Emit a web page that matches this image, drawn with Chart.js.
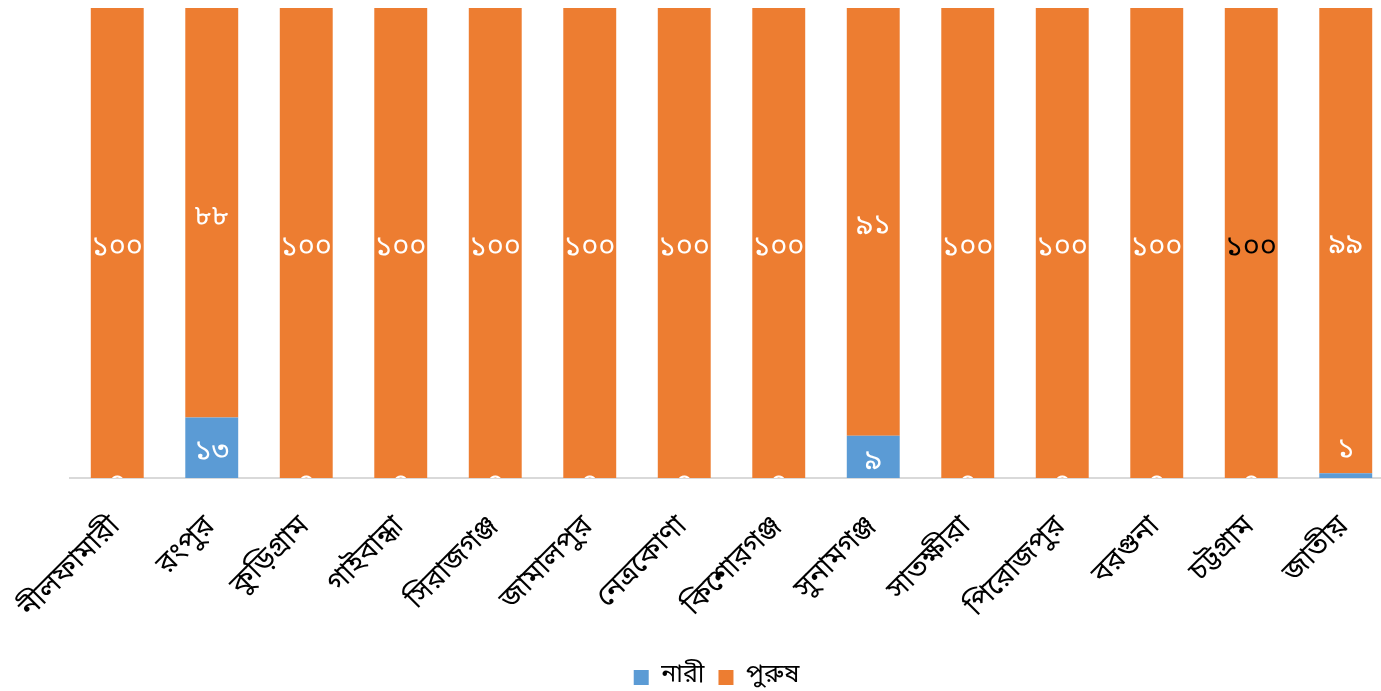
<!DOCTYPE html>
<html>
<head>
<meta charset="utf-8">
<script src="https://cdn.jsdelivr.net/npm/chart.js@4/dist/chart.umd.min.js"></script>
<style>
    html, body { margin: 0; padding: 0; background: #fff; overflow: hidden; }
    #wrap { position: relative; width: 1400px; height: 691px; }
</style>
</head>
<body>
<div id="wrap"><canvas id="chart"></canvas></div>
<script>
const categories = ['নীলফামারী', 'রংপুর', 'কুড়িগ্রাম', 'গাইবান্ধা', 'সিরাজগঞ্জ', 'জামালপুর', 'নেত্রকোণা', 'কিশোরগঞ্জ', 'সুনামগঞ্জ', 'সাতক্ষীরা', 'পিরোজপুর', 'বরগুনা', 'চট্টগ্রাম', 'জাতীয়'];
const seriesNames = ['নারী', 'পুরুষ'];
const women = [0, 13, 0, 0, 0, 0, 0, 0, 9, 0, 0, 0, 0, 1];
const men = [100, 88, 100, 100, 100, 100, 100, 100, 91, 100, 100, 100, 100, 99];

(function(){
    const FONT = '"Noto Sans Bengali", "Vrinda", "Nirmala UI", "Noto Sans", sans-serif';
    const bnDigits = '০১২৩৪৫৬৭৮৯';
    const toBn = n => String(n).replace(/[0-9]/g, d => bnDigits[+d]);

    const raw = [women, men];
    const totals = categories.map((c, i) => women[i] + men[i]);
    const share = arr => arr.map((v, i) => v / totals[i] * 100);
    const colors = ['#5B9BD5', '#ED7D31'];

    // label colours: white everywhere, one black label on চট্টগ্রাম
    const labelColor = (ds, i) => (ds === 1 && categories[i] === 'চট্টগ্রাম') ? '#000' : '#fff';

    const valueLabels = {
        id: 'valueLabels',
        afterLayout(chart) {
            // the legend sits a little left of the canvas centre in the original
            chart.legend.left -= 15;
            chart.legend.right -= 15;
        },
        afterDatasetsDraw(chart) {
            const ctx = chart.ctx;
            const area = chart.chartArea;
            ctx.save();
            ctx.beginPath();
            ctx.rect(area.left, area.top, area.right - area.left, area.bottom - area.top);
            ctx.clip();
            ctx.font = '29px ' + FONT;
            ctx.textAlign = 'center';
            ctx.textBaseline = 'middle';
            chart.data.datasets.forEach((ds, d) => {
                const meta = chart.getDatasetMeta(d);
                meta.data.forEach((bar, i) => {
                    const v = raw[d][i];
                    const h = Math.abs(bar.base - bar.y);
                    // bengali digits sit high on the middle baseline, push them down a bit
                    let y = (bar.y + bar.base) / 2 + 7;
                    if (v === 0) {
                        y = bar.base + 8;
                    } else if (h < 20) {
                        y = bar.y - 21;
                    }
                    ctx.fillStyle = labelColor(d, i);
                    ctx.fillText(toBn(v), bar.x, y);
                });
            });
            ctx.restore();
        }
    };

    const datasets = seriesNames.map((name, d) => ({
        label: name,
        data: share(raw[d]),
        backgroundColor: colors[d],
        borderWidth: 0,
        categoryPercentage: 0.56,
        barPercentage: 1
    }));

    new Chart(document.getElementById('chart'), {
        type: 'bar',
        data: { labels: categories, datasets: datasets },
        plugins: [valueLabels],
        options: {
            responsive: true,
            maintainAspectRatio: false,
            animation: false,
            layout: { padding: { left: 70, right: 7, top: 8, bottom: -9 } },
            plugins: {
                legend: {
                    position: 'bottom',
                    labels: {
                        boxWidth: 15,
                        boxHeight: 15,
                        padding: 14,
                        color: '#000',
                        font: { family: FONT, size: 25 }
                    }
                },
                tooltip: { enabled: false }
            },
            scales: {
                x: {
                    stacked: true,
                    grid: { display: false },
                    border: { color: '#D9D9D9', width: 2 },
                    afterFit(scale) {
                        // rotated labels may hang past the left edge, as in the original
                        scale.paddingLeft = 0;
                        scale.paddingRight = 0;
                        scale.height = 173;
                    },
                    ticks: {
                        color: '#000',
                        minRotation: 45,
                        maxRotation: 45,
                        autoSkip: false,
                        padding: 25,
                        font: { family: FONT, size: 29 }
                    }
                },
                y: {
                    stacked: true,
                    display: false,
                    min: 0,
                    max: 100
                }
            }
        }
    });
})();
</script>
</body>
</html>
